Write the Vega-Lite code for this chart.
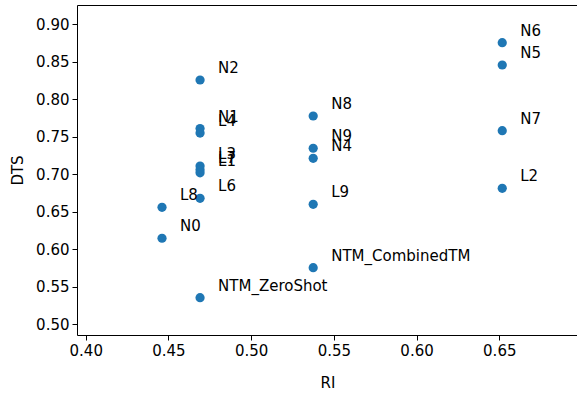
{
  "$schema": "https://vega.github.io/schema/vega-lite/v6.json",
  "width": 501,
  "height": 330,
  "autosize": {"type": "none"},
  "padding": {"left": 77, "top": 5, "right": 0, "bottom": 59},
  "background": "white",
  "config": {
    "font": "DejaVu Sans",
    "view": {"stroke": "black", "strokeWidth": 1},
    "axis": {
      "grid": false,
      "domain": false,
      "tickColor": "black",
      "tickSize": 5,
      "tickWidth": 1,
      "labelColor": "black",
      "labelFont": "DejaVu Sans",
      "labelFontSize": 15,
      "labelPadding": 3,
      "titleFont": "DejaVu Sans",
      "titleFontSize": 15,
      "titleFontWeight": "normal",
      "titleColor": "black"
    }
  },
  "data": {
    "values": [
      {"label": "N6", "RI": 0.6518, "DTS": 0.8755},
      {"label": "N5", "RI": 0.6518, "DTS": 0.8457},
      {"label": "N7", "RI": 0.6518, "DTS": 0.7581},
      {"label": "L2", "RI": 0.6518, "DTS": 0.6813},
      {"label": "N8", "RI": 0.5375, "DTS": 0.7777},
      {"label": "N9", "RI": 0.5375, "DTS": 0.7347},
      {"label": "N4", "RI": 0.5375, "DTS": 0.7213},
      {"label": "L9", "RI": 0.5375, "DTS": 0.660},
      {"label": "NTM_CombinedTM", "RI": 0.5375, "DTS": 0.5755},
      {"label": "N2", "RI": 0.4691, "DTS": 0.8257},
      {"label": "N1", "RI": 0.4691, "DTS": 0.7610},
      {"label": "L4", "RI": 0.4691, "DTS": 0.7550},
      {"label": "L3", "RI": 0.4691, "DTS": 0.7110},
      {"label": "L7", "RI": 0.4691, "DTS": 0.7060},
      {"label": "L1", "RI": 0.4691, "DTS": 0.7020},
      {"label": "L6", "RI": 0.4691, "DTS": 0.668},
      {"label": "NTM_ZeroShot", "RI": 0.4691, "DTS": 0.5355},
      {"label": "L8", "RI": 0.4461, "DTS": 0.656},
      {"label": "N0", "RI": 0.4461, "DTS": 0.6147}
    ]
  },
  "encoding": {
    "x": {
      "field": "RI",
      "type": "quantitative",
      "title": "RI",
      "scale": {"domain": [0.3947, 0.6976], "zero": false, "nice": false},
      "axis": {"values": [0.40, 0.45, 0.50, 0.55, 0.60, 0.65], "format": ".2f", "titlePadding": 17}
    },
    "y": {
      "field": "DTS",
      "type": "quantitative",
      "title": "DTS",
      "scale": {"domain": [0.4857, 0.9257], "zero": false, "nice": false},
      "axis": {"values": [0.50, 0.55, 0.60, 0.65, 0.70, 0.75, 0.80, 0.85, 0.90], "format": ".2f", "titlePadding": 10}
    }
  },
  "layer": [
    {
      "mark": {"type": "point", "filled": true, "shape": "circle", "size": 85, "color": "#1f77b4", "opacity": 1}
    },
    {
      "mark": {"type": "text", "align": "left", "baseline": "middle", "dx": 18, "dy": -12, "fontSize": 15, "color": "black", "font": "DejaVu Sans"},
      "encoding": {"text": {"field": "label", "type": "nominal"}}
    }
  ]
}
